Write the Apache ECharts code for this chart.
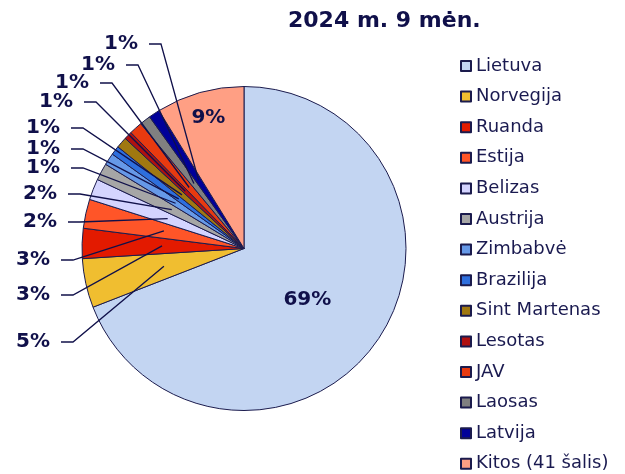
<!DOCTYPE html>
<html>
<head>
<meta charset="utf-8">
<script src="https://cdn.jsdelivr.net/npm/echarts@6/dist/echarts.min.js"></script>
<style>
html, body { margin: 0; padding: 0; background: #fff; }
#chart { width: 625px; height: 474px; }
</style>
</head>
<body>
<div id="chart"></div>
<script>
// data
var countries = ['Lietuva', 'Norvegija', 'Ruanda', 'Estija', 'Belizas', 'Austrija', 'Zimbabvė',
    'Brazilija', 'Sint Martenas', 'Lesotas', 'JAV', 'Laosas', 'Latvija', 'Kitos (41 šalis)'];
var shares = [69.1, 4.9, 3.0, 2.9, 2.1, 1.7, 1.2, 0.9, 1.1, 0.8, 1.3, 1.1, 1.1, 8.8];
var colors = ['#c3d5f2', '#f0be30', '#e31a00', '#ff5528', '#d4d4ff', '#a6a6a6', '#6699e8',
    '#2e6fdd', '#a07810', '#b01010', '#e83a10', '#808080', '#000099', '#ff9f84'];
var insideLabels = [0, 13];

// layout of the outside percent labels (right edge x, middle y), Norvegija .. Latvija
var labelAnchors = [[50, 342], [50, 295], [50, 260], [57, 222], [57, 194], [60, 168], [60, 149],
    [60, 128], [73, 102], [89, 83], [115, 65], [138, 44]];
var pieCenter = [244, 248.5];
var pieRadius = 162;
var lineRadius = 82;

var navy = '#10104a';
var font = 'DejaVu Sans';
var labelFont = { fontFamily: font, fontWeight: 'bold', fontSize: 20, color: navy };

var myChart = echarts.init(document.getElementById('chart'));

// coloured slices, only the two big labels inside
var pieData = countries.map(function (name, i) {
    var inside = insideLabels.indexOf(i) >= 0;
    return { name: name, value: shares[i], itemStyle: { color: colors[i] }, label: { show: inside } };
});

// invisible inner pie that carries the leader lines over the slices
var lineData = countries.map(function (name, i) {
    var inside = insideLabels.indexOf(i) >= 0;
    return { name: name, value: shares[i], label: { show: !inside }, labelLine: { show: !inside } };
});

var option = {
    animation: false,
    title: {
        text: '2024 m. 9 mėn.',
        left: 288,
        top: 10,
        padding: 0,
        textStyle: { fontFamily: font, fontWeight: 'bold', fontSize: 22, color: navy }
    },
    legend: {
        orient: 'vertical',
        left: 460,
        top: 56,
        padding: 0,
        itemWidth: 10,
        itemHeight: 10,
        itemGap: 10.6,
        icon: 'rect',
        data: countries,
        textStyle: { fontFamily: font, fontSize: 18, lineHeight: 20, color: '#1a1a50' }
    },
    series: [
        {
            type: 'pie',
            center: pieCenter,
            radius: pieRadius,
            startAngle: 90,
            clockwise: true,
            avoidLabelOverlap: false,
            percentPrecision: 0,
            itemStyle: { borderColor: '#1b1b4d', borderWidth: 1 },
            emphasis: { disabled: true },
            label: Object.assign({ position: 'inside', formatter: '{d}%' }, labelFont),
            labelLine: { show: false },
            labelLayout: function (p) {
                if (p.dataIndex === 0) return { dx: -6, dy: 4 };
                // push the 9% label out towards the rim
                var r = p.labelRect;
                var k = 133 / 81;
                var cx = r.x + r.width / 2, cy = r.y + r.height / 2;
                return {
                    x: pieCenter[0] + (cx - pieCenter[0]) * k + 2,
                    y: pieCenter[1] + (cy - pieCenter[1]) * k + 2,
                    align: 'center',
                    verticalAlign: 'middle'
                };
            },
            data: pieData
        },
        {
            type: 'pie',
            z: 3,
            silent: true,
            center: pieCenter,
            radius: lineRadius,
            startAngle: 90,
            clockwise: true,
            avoidLabelOverlap: false,
            percentPrecision: 0,
            itemStyle: { color: 'rgba(0,0,0,0)', borderWidth: 0 },
            emphasis: { disabled: true },
            label: Object.assign({ position: 'outside', formatter: '{d}%' }, labelFont),
            labelLine: {
                length: 10,
                length2: 10,
                lineStyle: { color: navy, width: 1.3 }
            },
            labelLayout: function (p) {
                var a = labelAnchors[p.dataIndex - 1];
                if (!a || !p.labelLinePoints) return {};
                return {
                    x: a[0],
                    y: a[1],
                    align: 'right',
                    verticalAlign: 'middle',
                    labelLinePoints: [p.labelLinePoints[0], [a[0] + 23, a[1]], [a[0] + 11, a[1]]]
                };
            },
            data: lineData
        }
    ]
};

myChart.setOption(option);
</script>
</body>
</html>
